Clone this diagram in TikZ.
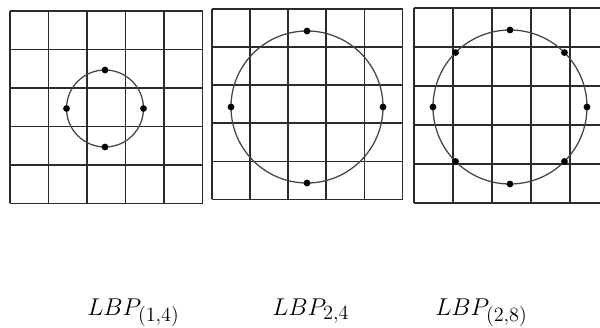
\documentclass[tikz,border=0pt]{standalone}
\usepackage{tikz}
\usetikzlibrary{positioning,calc}
\DeclareMathSizes{19}{19}{14}{10}
\definecolor{Ink}{HTML}{2B2B2B}
\definecolor{Ring}{HTML}{454545}
\tikzset{
 gridline/.style={draw=Ink, line width=1.2pt},
 ring/.style={draw=Ring, line width=0.9pt},
 sample/.style={fill=black},
 lbl/.style={anchor=base west, inner sep=0pt, font=\fontsize{19}{23}\selectfont}
}
\begin{document}
\begin{tikzpicture}[x=0.025cm, y=-0.025cm]
\clip (0,0) rectangle (600,328);
\fill[white] (0,0) rectangle (600,328);
% three 5x5 grids
\foreach \ox/\oy/\c in {10/11/38.5, 212/9/38.1, 414/8/39} {
  \foreach \i in {0,...,5} {
    \draw[gridline] ({\ox+\i*\c},\oy) -- ({\ox+\i*\c},{\oy+5*\c});
    \draw[gridline] (\ox,{\oy+\i*\c}) -- ({\ox+5*\c},{\oy+\i*\c});
  }
}
% circles and sampling points
\coordinate (c1) at (105,108.5);
\coordinate (c2) at (307,107);
\coordinate (c3) at (510,107);
\draw[ring] (c1) circle[radius=38.5];
\draw[ring] (c2) circle[radius=76];
\draw[ring] (c3) circle[radius=77];
\foreach \a in {0,90,180,270} {
  \fill[sample] ($(c1)+(\a:38.5)$) circle[radius=3.4];
  \fill[sample] ($(c2)+(\a:76)$) circle[radius=3.4];
}
\foreach \a in {0,45,...,315}
  \fill[sample] ($(c3)+(\a:77)$) circle[radius=3.4];
% labels
\node[lbl] (l1) at (87,315) {$LBP_{(1,4)}$};
\node[lbl] (l2) at (272,315) {$LBP_{2,4}$};
\node[lbl] (l3) at (435,315) {$LBP_{(2,8)}$};
\end{tikzpicture}
\end{document}
